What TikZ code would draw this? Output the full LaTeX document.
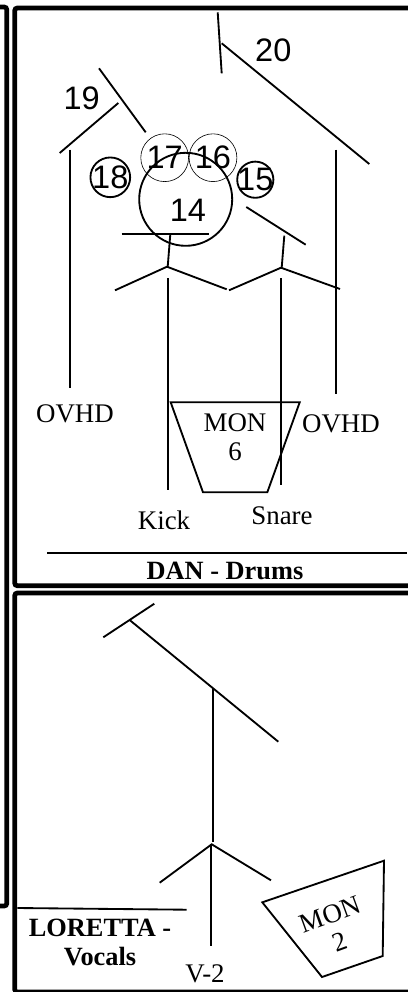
\documentclass[tikz,border=0pt]{standalone}
\usepackage{fontspec}
\setmainfont{Liberation Serif}
\newfontfamily\numfont{Liberation Sans}
\tikzset{
  wall/.style={line width=2.7pt,rounded corners=1.5pt},
  stand/.style={line width=1.05pt},
  tag/.style={font=\fontsize{15.3}{16.6}\selectfont,align=center,inner sep=0pt},
  boldtag/.style={tag,font=\fontsize{15}{16.6}\selectfont\bfseries},
  num/.style={font=\numfont\fontsize{18.5}{20}\selectfont,inner sep=0pt},
  ring/.style={circle,draw,inner sep=-2pt,line width=1.05pt,font=\numfont\fontsize{18.5}{20}\selectfont},
  thinring/.style={ring,line width=0.35pt}
}
\begin{document}
\begin{tikzpicture}[x=0.02cm,y=-0.02cm]
\useasboundingbox (0,0) rectangle (408,992);
% frames
\draw[wall] (-10,7) rectangle (6.8,906);
\draw[wall] (430,8) -- (14.7,8) -- (14.7,585.7) -- (430,585.7);
\draw[wall] (430,593) -- (14.7,593) -- (14.7,992) -- (430,992);
% drum kit
\draw[stand] (185.7,199.3) circle (46.5);
\node[thinring,minimum size=27.2pt] (tomL) at (164.7,157.7) {17};
\node[thinring,minimum size=27.2pt] (tomR) at (213,157.7) {16};
\node[ring,minimum size=22.6pt] (crashL) at (110.3,177.3) {18};
\node[ring,minimum size=20.6pt] (crashR) at (255.3,179.7) {15};
\node[num] (kicknum) at (188,210) {14};
\node[num] (num19) at (81.7,98.3) {19};
\node[num] (num20) at (273.3,50) {20};
% overhead right
\draw[stand] (217.7,12.3) -- (221.7,73.3);
\draw[stand] (221.7,43.3) -- (369.3,164);
\draw[stand] (336.3,149.7) -- (336.3,394);
% overhead left
\draw[stand] (99,68.3) -- (145.7,132.3);
\draw[stand] (118.3,103) -- (59.7,153);
\draw[stand] (70,149.7) -- (70,388);
% kick mic
\draw[stand] (121.7,234.3) -- (208.7,234.3);
\draw[stand] (170.3,234.3) -- (167.7,266.7);
\draw[stand] (115,290.3) -- (167,266.7) -- (226.7,289.3);
\draw[stand] (167.7,278.3) -- (167.7,490);
% snare mic
\draw[stand] (246.3,207) -- (305.7,244.7);
\draw[stand] (284.3,235.7) -- (281.7,267.7);
\draw[stand] (229,290.3) -- (281,267.7) -- (340,289);
\draw[stand] (281.3,278.3) -- (281.3,485);
% monitor 6
\draw[stand] (170.7,402.3) -- (299.7,402.3) -- (267.3,492.3) -- (203,492.3) -- cycle;
\node[tag] (mon6) at (235,437) {MON\\6};
\node[tag] (ovhdL) at (75,414) {OVHD};
\node[tag] (ovhdR) at (341,424) {OVHD};
\node[tag] (kick) at (164,520) {Kick};
\node[tag] (snare) at (282,515.3) {Snare};
\draw[stand] (47,552.7) -- (406.7,552.7);
\node[boldtag] (dan) at (225,570.7) {DAN - Drums};
% vocal mic
\draw[stand] (154.3,603.7) -- (103.3,637.3);
\draw[stand] (130,620.3) -- (278.3,741.7);
\draw[stand] (213,688.3) -- (213,841.7);
\draw[stand] (159.7,882.7) -- (211.7,844.3) -- (271,880.3);
\draw[stand] (211.3,844.3) -- (211.3,946);
% monitor 2
\draw[stand] (262.3,902.3) -- (384,860.7) -- (382.7,956) -- (322,977) -- cycle;
\node[tag,rotate=20] (mon2) at (335,928) {MON\\2};
\draw[stand] (17.3,908) -- (186.7,909.7);
\node[boldtag] (loretta) at (100,942.5) {LORETTA -\\Vocals};
\node[tag] (vtwo) at (205,974) {V-2};
\end{tikzpicture}
\end{document}
